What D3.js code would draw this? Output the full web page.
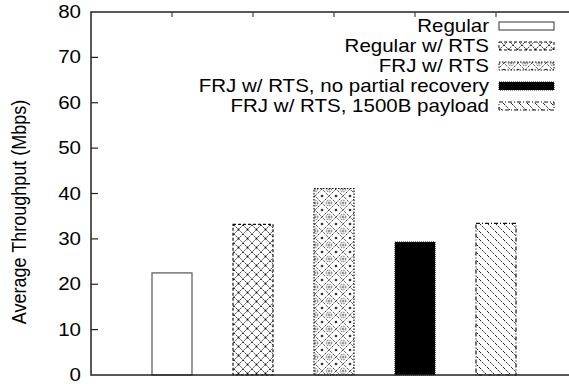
<!DOCTYPE html>
<html>
<head>
<meta charset="utf-8">
<script src="https://cdn.jsdelivr.net/npm/d3@7/dist/d3.min.js"></script>
<style>
  html, body { margin: 0; padding: 0; background: #fff; }
  svg { display: block; }
  text { font-family: "Liberation Sans", Arial, Helvetica, sans-serif; fill: #000; }
</style>
</head>
<body>
<svg id="chart" width="569" height="384"></svg>
<script>
// Throughput per configuration (Mbps)
const categories = [
  "Regular",
  "Regular w/ RTS",
  "FRJ w/ RTS",
  "FRJ w/ RTS, no partial recovery",
  "FRJ w/ RTS, 1500B payload"
];
const throughput = [22.5, 33.2, 41.1, 29.3, 33.4];
const yTicks = [0, 10, 20, 30, 40, 50, 60, 70, 80];
const yLabel = "Average Throughput (Mbps)";

// per-series look: fill pattern and outline dash
const fills = ["#fff", "url(#pat-cross)", "url(#pat-diamond)", "#000", "url(#pat-diag)"];
const dashes = [null, "3,2", "1.5,1.5", "1,1", "4,2,1,2"];

const FONT = 18;
const STRETCH = 1.14; // horizontal widening of the lettering
const svg = d3.select("#chart");
const margin = { left: 91, top: 12, bottom: 9 };
const W = 569, H = 384;
const plotRight = 577; // frame extends just past the canvas edge

const x = d3.scaleLinear().domain([0, categories.length + 1]).range([margin.left, plotRight]);
const y = d3.scaleLinear().domain([0, 80]).range([H - margin.bottom, margin.top]);
const barW = 40;

// ---- fill patterns ----
const defs = svg.append("defs");

// crosshatch of X's
const pc = defs.append("pattern").attr("id", "pat-cross")
  .attr("patternUnits", "userSpaceOnUse").attr("width", 9).attr("height", 9);
pc.append("rect").attr("width", 9).attr("height", 9).attr("fill", "#fff");
pc.append("path").attr("d", "M0,0L9,9M9,0L0,9")
  .attr("stroke", "#222").attr("stroke-width", 0.9).attr("stroke-dasharray", "2,1");
pc.append("circle").attr("cx", 4.5).attr("cy", 4.5).attr("r", 0.9).attr("fill", "#000");

// diamond lattice with small rings
const pd = defs.append("pattern").attr("id", "pat-diamond")
  .attr("patternUnits", "userSpaceOnUse").attr("width", 14).attr("height", 14);
pd.append("rect").attr("width", 14).attr("height", 14).attr("fill", "#fff");
pd.append("path").attr("d", "M0,7L7,0L14,7L7,14Z")
  .attr("fill", "none").attr("stroke", "#222").attr("stroke-width", 1).attr("stroke-dasharray", "1.2,1");
pd.append("circle").attr("cx", 7).attr("cy", 7).attr("r", 2.8)
  .attr("fill", "none").attr("stroke", "#333").attr("stroke-width", 0.9).attr("stroke-dasharray", "1,0.8");
pd.append("path").attr("d", "M7,5.5V8.5M5.5,7H8.5").attr("stroke", "#444").attr("stroke-width", 0.7);
[[0,0],[14,0],[0,14],[14,14]].forEach(([cx, cy]) =>
  pd.append("circle").attr("cx", cx).attr("cy", cy).attr("r", 1.3).attr("fill", "#333"));

// diagonal hatching, top-left to bottom-right
const pg = defs.append("pattern").attr("id", "pat-diag")
  .attr("patternUnits", "userSpaceOnUse").attr("width", 8).attr("height", 8);
pg.append("rect").attr("width", 8).attr("height", 8).attr("fill", "#fff");
pg.append("path").attr("d", "M0,0L8,8M-4,4L0,8M4,-4L12,4")
  .attr("stroke", "#222").attr("stroke-width", 1).attr("stroke-dasharray", "2,1.2");

// ---- bars ----
svg.append("g").selectAll("rect").data(throughput).join("rect")
  .attr("x", (d, i) => x(i + 1) - barW / 2)
  .attr("y", d => y(d))
  .attr("width", barW)
  .attr("height", d => y(0) - y(d))
  .attr("fill", (d, i) => fills[i])
  .attr("stroke", (d, i) => i === 0 ? "#555" : "#111")
  .attr("stroke-width", 1.2)
  .attr("stroke-dasharray", (d, i) => dashes[i]);

// ---- frame and ticks ----
const frame = svg.append("g");
frame.append("rect")
  .attr("x", margin.left).attr("y", margin.top)
  .attr("width", plotRight - margin.left).attr("height", y(0) - margin.top)
  .attr("fill", "none").attr("stroke", "#222").attr("stroke-width", 1.5);

// y ticks pointing inward
frame.selectAll(".yt").data(yTicks.slice(1, -1)).join("line")
  .attr("x1", margin.left).attr("x2", margin.left + 7)
  .attr("y1", d => y(d)).attr("y2", d => y(d))
  .attr("stroke", "#222").attr("stroke-width", 1.2);

// mirrored category ticks along the top edge
frame.selectAll(".xt").data(categories).join("line")
  .attr("x1", (d, i) => x(i + 1)).attr("x2", (d, i) => x(i + 1))
  .attr("y1", margin.top).attr("y2", margin.top + 5)
  .attr("stroke", "#444").attr("stroke-width", 1.2);

// horizontal text helper: anchored at (tx, ty), widened by STRETCH
function hText(g, tx, ty, anchor, str) {
  return g.append("text")
    .attr("transform", `translate(${tx},${ty}) scale(${STRETCH},1)`)
    .attr("text-anchor", anchor).attr("dominant-baseline", "central")
    .attr("font-size", FONT)
    .text(str);
}

// y tick labels
const yl = svg.append("g");
yTicks.forEach(t => hText(yl, 81, y(t), "end", t));

// y axis title
svg.append("text")
  .attr("transform", `translate(19,212) rotate(-90) scale(1,${STRETCH})`)
  .attr("text-anchor", "middle").attr("dominant-baseline", "central")
  .attr("font-size", FONT)
  .text(yLabel);

// ---- legend ----
const legend = svg.append("g");
const rowY = i => 26 + i * 20;
categories.forEach((c, i) => {
  hText(legend, 489, rowY(i), "end", c);
  legend.append("rect")
    .attr("x", 499).attr("y", rowY(i) - 4).attr("width", 55).attr("height", 8)
    .attr("fill", fills[i])
    .attr("stroke", i === 0 ? "#333" : "#111")
    .attr("stroke-width", 1)
    .attr("stroke-dasharray", dashes[i]);
});
</script>
</body>
</html>
